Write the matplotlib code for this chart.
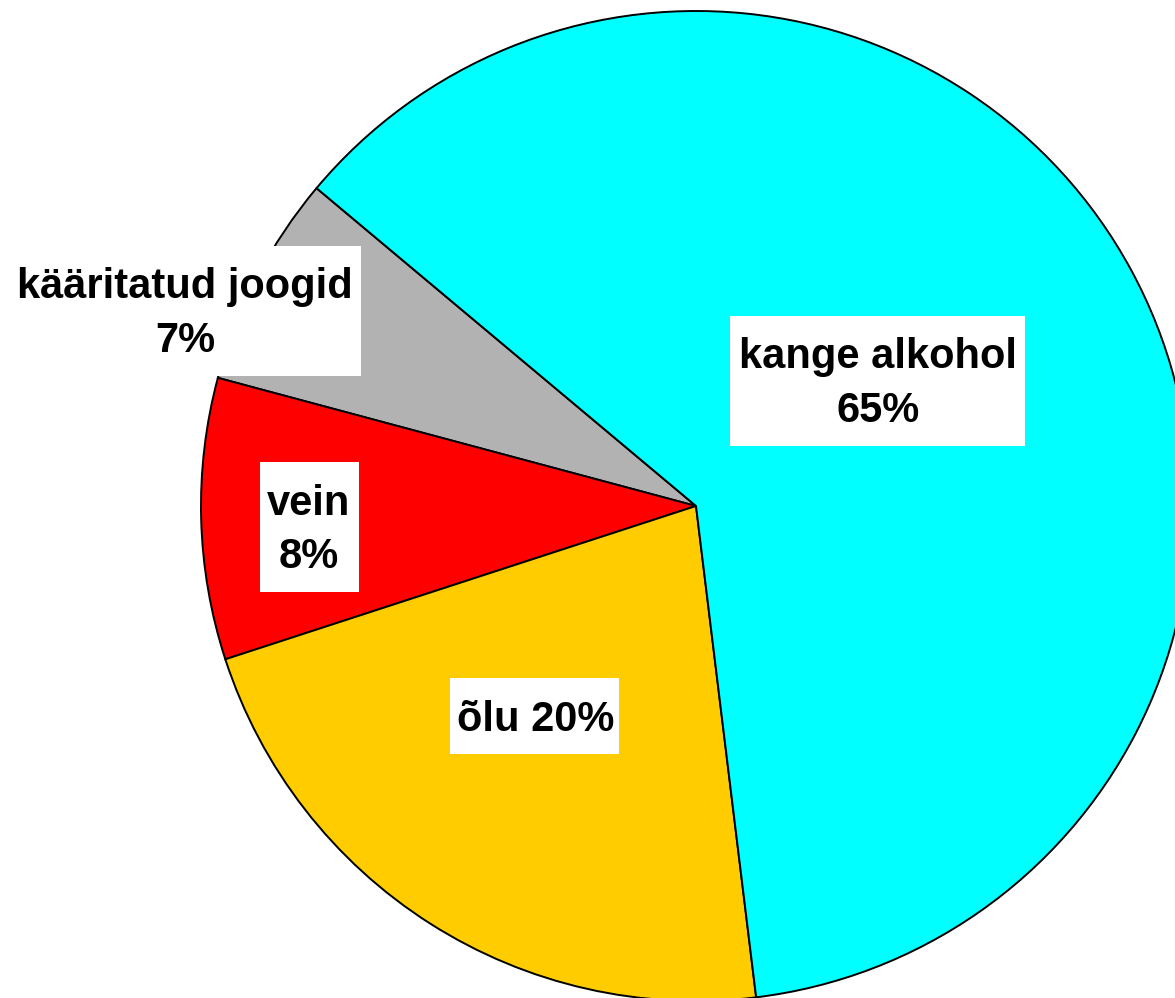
import matplotlib
matplotlib.use("Agg")
import matplotlib.pyplot as plt
from matplotlib.patches import Rectangle

categories = ["kääritatud joogid", "vein", "õlu", "kange alkohol"]
values = [6.93, 9.18, 21.93, 61.97]
label_texts = [["kääritatud joogid", "7%"], ["vein", "8%"], ["õlu 20%"], ["kange alkohol", "65%"]]
colors = ["#B2B2B2", "#FF0000", "#FFCC00", "#00FFFF"]

W, H = 1175, 998
fig = plt.figure(figsize=(W / 100, H / 100), dpi=100)
ax = fig.add_axes([0, 0, 1, 1])

cx, cy, r = 696, H - 506, 495
ax.pie(values, colors=colors, startangle=140.05, counterclock=True,
       center=(cx, cy), radius=r,
       wedgeprops=dict(edgecolor="black", linewidth=1.4))
ax.set_xlim(0, W)
ax.set_ylim(0, H)
ax.set_aspect("auto")
ax.axis("off")

# Label boxes (image pixel coords: x0, x1, ytop, ybottom)
boxes = [(9, 361, 245.7, 375.7), (260, 359, 462.3, 591.7),
         (450, 619, 677.7, 754.0), (730, 1025, 315.7, 445.7)]
# text centre x and baselines per line (image coords)
text_pos = [(185, [298, 351.7]), (309, [515, 568.3]), (536, [730.7]), (878, [368, 421.7])]

font = dict(family=["Liberation Sans", "DejaVu Sans"], fontsize=30, fontweight="bold", color="black")
for (x0, x1, yt, yb), lines, (tx, bls) in zip(boxes, label_texts, text_pos):
    ax.add_patch(Rectangle((x0, H - yb), x1 - x0, yb - yt, facecolor="white",
                           edgecolor="none", zorder=3))
    for line, bl in zip(lines, bls):
        ax.text(tx, H - bl, line, ha="center", va="baseline", zorder=4, **font)

fig.savefig("out.png", dpi=100)
